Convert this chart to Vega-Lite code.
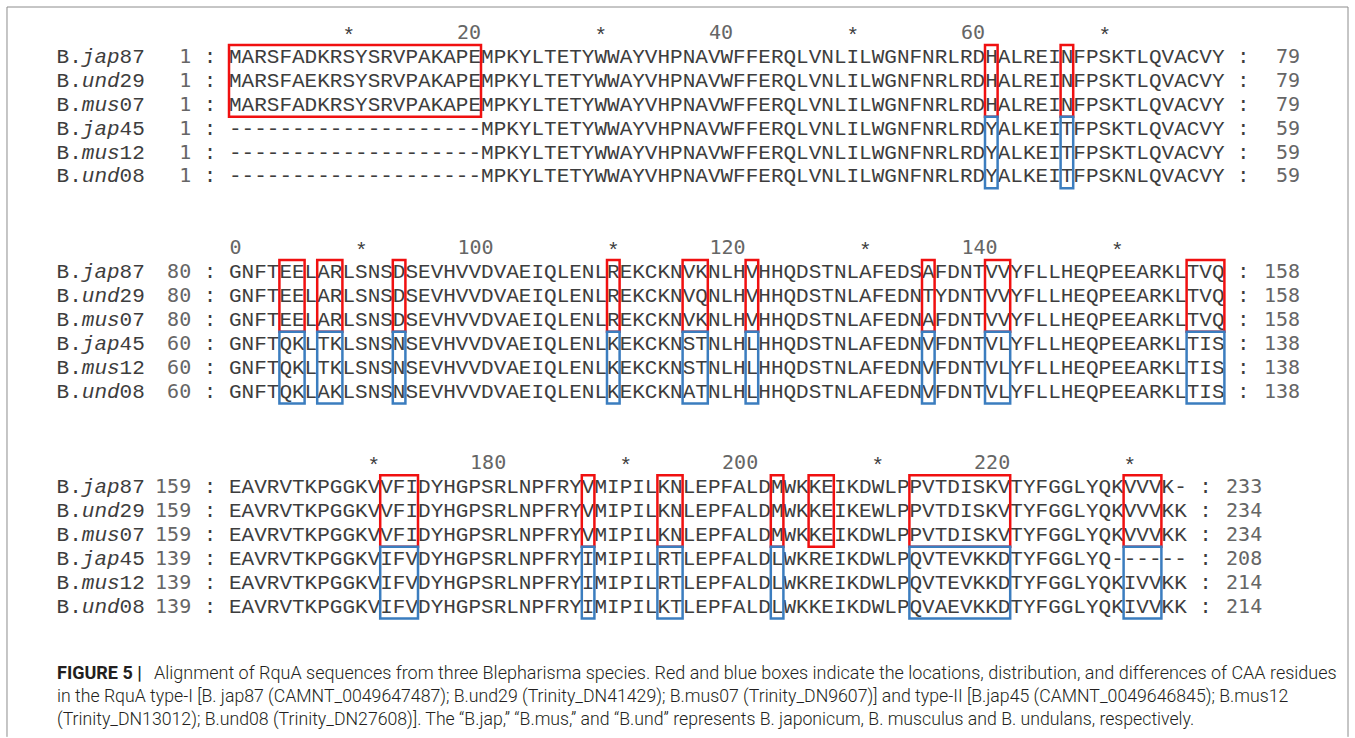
{
  "$schema": "https://vega.github.io/schema/vega-lite/v6.json",
  "width": 1355,
  "height": 738,
  "autosize": {"type": "fit", "contains": "padding"},
  "padding": 0,
  "background": "white",
  "config": {"view": {"stroke": null}, "axis": {"disable": true}, "legend": {"disable": true}},
  "resolve": {"scale": {"y": "independent"}},
  "datasets": {
    "rows": [
      {"line": 1, "sp": "jap", "num": "87", "start": 1, "end": 79, "len": 79, "seq": "MARSFADKRSYSRVPAKAPEMPKYLTETYWWAYVHPNAVWFFERQLVNLILWGNFNRLRDHALREINFPSKTLQVACVY"},
      {"line": 2, "sp": "und", "num": "29", "start": 1, "end": 79, "len": 79, "seq": "MARSFAEKRSYSRVPAKAPEMPKYLTETYWWAYVHPNAVWFFERQLVNLILWGNFNRLRDHALREINFPSKTLQVACVY"},
      {"line": 3, "sp": "mus", "num": "07", "start": 1, "end": 79, "len": 79, "seq": "MARSFADKRSYSRVPAKAPEMPKYLTETYWWAYVHPNAVWFFERQLVNLILWGNFNRLRDHALREINFPSKTLQVACVY"},
      {"line": 4, "sp": "jap", "num": "45", "start": 1, "end": 59, "len": 79, "seq": "--------------------MPKYLTETYWWAYVHPNAVWFFERQLVNLILWGNFNRLRDYALKEITFPSKTLQVACVY"},
      {"line": 5, "sp": "mus", "num": "12", "start": 1, "end": 59, "len": 79, "seq": "--------------------MPKYLTETYWWAYVHPNAVWFFERQLVNLILWGNFNRLRDYALKEITFPSKTLQVACVY"},
      {"line": 6, "sp": "und", "num": "08", "start": 1, "end": 59, "len": 79, "seq": "--------------------MPKYLTETYWWAYVHPNAVWFFERQLVNLILWGNFNRLRDYALKEITFPSKNLQVACVY"},
      {"line": 10, "sp": "jap", "num": "87", "start": 80, "end": 158, "len": 79, "seq": "GNFTEELARLSNSDSEVHVVDVAEIQLENLREKCKNVKNLHVHHQDSTNLAFEDSAFDNTVVYFLLHEQPEEARKLTVQ"},
      {"line": 11, "sp": "und", "num": "29", "start": 80, "end": 158, "len": 79, "seq": "GNFTEELARLSNSDSEVHVVDVAEIQLENLREKCKNVQNLHVHHQDSTNLAFEDNTYDNTVVYFLLHEQPEEARKLTVQ"},
      {"line": 12, "sp": "mus", "num": "07", "start": 80, "end": 158, "len": 79, "seq": "GNFTEELARLSNSDSEVHVVDVAEIQLENLREKCKNVKNLHVHHQDSTNLAFEDNAFDNTVVYFLLHEQPEEARKLTVQ"},
      {"line": 13, "sp": "jap", "num": "45", "start": 60, "end": 138, "len": 79, "seq": "GNFTQKLTKLSNSNSEVHVVDVAEIQLENLKEKCKNSTNLHLHHQDSTNLAFEDNVFDNTVLYFLLHEQPEEARKLTIS"},
      {"line": 14, "sp": "mus", "num": "12", "start": 60, "end": 138, "len": 79, "seq": "GNFTQKLTKLSNSNSEVHVVDVAEIQLENLKEKCKNSTNLHLHHQDSTNLAFEDNVFDNTVLYFLLHEQPEEARKLTIS"},
      {"line": 15, "sp": "und", "num": "08", "start": 60, "end": 138, "len": 79, "seq": "GNFTQKLAKLSNSNSEVHVVDVAEIQLENLKEKCKNATNLHLHHQDSTNLAFEDNVFDNTVLYFLLHEQPEEARKLTIS"},
      {"line": 19, "sp": "jap", "num": "87", "start": 159, "end": 233, "len": 76, "seq": "EAVRVTKPGGKVVFIDYHGPSRLNPFRYVMIPILKNLEPFALDMWKKEIKDWLPPVTDISKVTYFGGLYQKVVVK-"},
      {"line": 20, "sp": "und", "num": "29", "start": 159, "end": 234, "len": 76, "seq": "EAVRVTKPGGKVVFIDYHGPSRLNPFRYVMIPILKNLEPFALDMWKKEIKEWLPPVTDISKVTYFGGLYQKVVVKK"},
      {"line": 21, "sp": "mus", "num": "07", "start": 159, "end": 234, "len": 76, "seq": "EAVRVTKPGGKVVFIDYHGPSRLNPFRYVMIPILKNLEPFALDMWKKEIKDWLPPVTDISKVTYFGGLYQKVVVKK"},
      {"line": 22, "sp": "jap", "num": "45", "start": 139, "end": 208, "len": 76, "seq": "EAVRVTKPGGKVIFVDYHGPSRLNPFRYIMIPILRTLEPFALDLWKREIKDWLPQVTEVKKDTYFGGLYQ------"},
      {"line": 23, "sp": "mus", "num": "12", "start": 139, "end": 214, "len": 76, "seq": "EAVRVTKPGGKVIFVDYHGPSRLNPFRYIMIPILRTLEPFALDLWKREIKDWLPQVTEVKKDTYFGGLYQKIVVKK"},
      {"line": 24, "sp": "und", "num": "08", "start": 139, "end": 214, "len": 76, "seq": "EAVRVTKPGGKVIFVDYHGPSRLNPFRYIMIPILKTLEPFALDLWKKEIKDWLPQVAEVKKDTYFGGLYQKIVVKK"}
    ],
    "ruler": [
      {"line": 0, "col": 9, "label": "*", "kind": "star"},
      {"line": 0, "col": 19, "label": "20", "kind": "num"},
      {"line": 0, "col": 29, "label": "*", "kind": "star"},
      {"line": 0, "col": 39, "label": "40", "kind": "num"},
      {"line": 0, "col": 49, "label": "*", "kind": "star"},
      {"line": 0, "col": 59, "label": "60", "kind": "num"},
      {"line": 0, "col": 69, "label": "*", "kind": "star"},
      {"line": 9, "col": 0, "label": "0", "kind": "num"},
      {"line": 9, "col": 10, "label": "*", "kind": "star"},
      {"line": 9, "col": 20, "label": "100", "kind": "num"},
      {"line": 9, "col": 30, "label": "*", "kind": "star"},
      {"line": 9, "col": 40, "label": "120", "kind": "num"},
      {"line": 9, "col": 50, "label": "*", "kind": "star"},
      {"line": 9, "col": 60, "label": "140", "kind": "num"},
      {"line": 9, "col": 70, "label": "*", "kind": "star"},
      {"line": 18, "col": 11, "label": "*", "kind": "star"},
      {"line": 18, "col": 21, "label": "180", "kind": "num"},
      {"line": 18, "col": 31, "label": "*", "kind": "star"},
      {"line": 18, "col": 41, "label": "200", "kind": "num"},
      {"line": 18, "col": 51, "label": "*", "kind": "star"},
      {"line": 18, "col": 61, "label": "220", "kind": "num"},
      {"line": 18, "col": 71, "label": "*", "kind": "star"}
    ],
    "boxes": [
      {"type": "I", "c0": 0, "c1": 20, "top": 0.5, "bottom": 3.5},
      {"type": "I", "c0": 60, "c1": 61, "top": 0.5, "bottom": 3.5},
      {"type": "I", "c0": 66, "c1": 67, "top": 0.5, "bottom": 3.5},
      {"type": "II", "c0": 60, "c1": 61, "top": 3.5, "bottom": 6.5},
      {"type": "II", "c0": 66, "c1": 67, "top": 3.5, "bottom": 6.5},
      {"type": "I", "c0": 4, "c1": 6, "top": 9.5, "bottom": 12.5},
      {"type": "I", "c0": 7, "c1": 9, "top": 9.5, "bottom": 12.5},
      {"type": "I", "c0": 13, "c1": 14, "top": 9.5, "bottom": 12.5},
      {"type": "I", "c0": 30, "c1": 31, "top": 9.5, "bottom": 12.5},
      {"type": "I", "c0": 36, "c1": 38, "top": 9.5, "bottom": 12.5},
      {"type": "I", "c0": 41, "c1": 42, "top": 9.5, "bottom": 12.5},
      {"type": "I", "c0": 55, "c1": 56, "top": 9.5, "bottom": 12.5},
      {"type": "I", "c0": 60, "c1": 62, "top": 9.5, "bottom": 12.5},
      {"type": "I", "c0": 76, "c1": 79, "top": 9.5, "bottom": 12.5},
      {"type": "II", "c0": 4, "c1": 6, "top": 12.5, "bottom": 15.5},
      {"type": "II", "c0": 7, "c1": 9, "top": 12.5, "bottom": 15.5},
      {"type": "II", "c0": 13, "c1": 14, "top": 12.5, "bottom": 15.5},
      {"type": "II", "c0": 30, "c1": 31, "top": 12.5, "bottom": 15.5},
      {"type": "II", "c0": 36, "c1": 38, "top": 12.5, "bottom": 15.5},
      {"type": "II", "c0": 41, "c1": 42, "top": 12.5, "bottom": 15.5},
      {"type": "II", "c0": 55, "c1": 56, "top": 12.5, "bottom": 15.5},
      {"type": "II", "c0": 60, "c1": 62, "top": 12.5, "bottom": 15.5},
      {"type": "II", "c0": 76, "c1": 79, "top": 12.5, "bottom": 15.5},
      {"type": "I", "c0": 12, "c1": 15, "top": 18.5, "bottom": 21.5},
      {"type": "I", "c0": 28, "c1": 29, "top": 18.5, "bottom": 21.5},
      {"type": "I", "c0": 34, "c1": 36, "top": 18.5, "bottom": 21.5},
      {"type": "I", "c0": 43, "c1": 44, "top": 18.5, "bottom": 21.5},
      {"type": "I", "c0": 46, "c1": 48, "top": 18.5, "bottom": 21.5},
      {"type": "I", "c0": 54, "c1": 62, "top": 18.5, "bottom": 21.5},
      {"type": "I", "c0": 71, "c1": 74, "top": 18.5, "bottom": 21.5},
      {"type": "II", "c0": 12, "c1": 15, "top": 21.5, "bottom": 24.5},
      {"type": "II", "c0": 28, "c1": 29, "top": 21.5, "bottom": 24.5},
      {"type": "II", "c0": 34, "c1": 36, "top": 21.5, "bottom": 24.5},
      {"type": "II", "c0": 43, "c1": 44, "top": 21.5, "bottom": 24.5},
      {"type": "II", "c0": 54, "c1": 62, "top": 21.5, "bottom": 24.5},
      {"type": "II", "c0": 71, "c1": 74, "top": 21.5, "bottom": 24.5}
    ],
    "caption": [
      {"cline": 1, "part": "head", "text": "FIGURE 5 |"},
      {"cline": 1, "part": "first", "text": "Alignment of RquA sequences from three Blepharisma species. Red and blue boxes indicate the locations, distribution, and differences of CAA residues"},
      {"cline": 2, "part": "rest", "text": "in the RquA type-I [B. jap87 (CAMNT_0049647487); B.und29 (Trinity_DN41429); B.mus07 (Trinity_DN9607)] and type-II [B.jap45 (CAMNT_0049646845); B.mus12"},
      {"cline": 3, "part": "rest", "text": "(Trinity_DN13012); B.und08 (Trinity_DN27608)]. The “B.jap,” “B.mus,” and “B.und” represents B. japonicum, B. musculus and B. undulans, respectively."}
    ],
    "frame": [{"frame": "border"}]
  },
  "layer": [
    {
      "data": {"name": "frame"},
      "mark": {"type": "rule", "color": "#8c8c8c", "strokeWidth": 1},
      "encoding": {
        "x": {"datum": -17.62, "type": "quantitative", "scale": {"domain": [-18.175, 89.365], "nice": false, "zero": false}},
        "y": {"datum": -1.088, "type": "quantitative", "scale": {"domain": [-1.381, 29.498], "nice": false, "zero": false, "reverse": true}},
        "y2": {"datum": 29.45}
      }
    },
    {
      "data": {"name": "frame"},
      "mark": {"type": "rule", "color": "#8c8c8c", "strokeWidth": 1},
      "encoding": {
        "x": {"datum": -17.62, "type": "quantitative", "scale": {"domain": [-18.175, 89.365], "nice": false, "zero": false}},
        "x2": {"datum": 88.81},
        "y": {"datum": -1.088, "type": "quantitative", "scale": {"domain": [-1.381, 29.498], "nice": false, "zero": false, "reverse": true}}
      }
    },
    {
      "data": {"name": "frame"},
      "mark": {"type": "rule", "color": "#8c8c8c", "strokeWidth": 1},
      "encoding": {
        "x": {"datum": 88.81, "type": "quantitative", "scale": {"domain": [-18.175, 89.365], "nice": false, "zero": false}},
        "y": {"datum": -1.088, "type": "quantitative", "scale": {"domain": [-1.381, 29.498], "nice": false, "zero": false, "reverse": true}},
        "y2": {"datum": 29.45}
      }
    },
    {
      "data": {"name": "rows"},
      "mark": {"type": "text", "align": "left", "baseline": "middle", "font": "Liberation Mono", "fontSize": 21, "color": "#3d3d3d"},
      "encoding": {
        "x": {"datum": 0, "type": "quantitative", "scale": {"domain": [-18.175, 89.365], "nice": false, "zero": false}},
        "y": {"field": "line", "type": "quantitative", "scale": {"domain": [-1.381, 29.498], "nice": false, "zero": false, "reverse": true}},
        "text": {"field": "seq"}
      }
    },
    {
      "data": {"name": "rows"},
      "mark": {"type": "text", "align": "left", "baseline": "middle", "font": "Liberation Mono", "fontSize": 21, "color": "#3d3d3d", "text": "B.", "dx": 4},
      "encoding": {
        "x": {"datum": -14, "type": "quantitative", "scale": {"domain": [-18.175, 89.365], "nice": false, "zero": false}},
        "y": {"field": "line", "type": "quantitative", "scale": {"domain": [-1.381, 29.498], "nice": false, "zero": false, "reverse": true}}
      }
    },
    {
      "data": {"name": "rows"},
      "mark": {"type": "text", "align": "left", "baseline": "middle", "font": "Liberation Mono", "fontSize": 21, "fontStyle": "italic", "color": "#3d3d3d", "dx": 4},
      "encoding": {
        "x": {"datum": -12, "type": "quantitative", "scale": {"domain": [-18.175, 89.365], "nice": false, "zero": false}},
        "y": {"field": "line", "type": "quantitative", "scale": {"domain": [-1.381, 29.498], "nice": false, "zero": false, "reverse": true}},
        "text": {"field": "sp"}
      }
    },
    {
      "data": {"name": "rows"},
      "mark": {"type": "text", "align": "left", "baseline": "middle", "font": "Liberation Mono", "fontSize": 21, "color": "#3d3d3d", "dx": 4},
      "encoding": {
        "x": {"datum": -9, "type": "quantitative", "scale": {"domain": [-18.175, 89.365], "nice": false, "zero": false}},
        "y": {"field": "line", "type": "quantitative", "scale": {"domain": [-1.381, 29.498], "nice": false, "zero": false, "reverse": true}},
        "text": {"field": "num"}
      }
    },
    {
      "data": {"name": "rows"},
      "mark": {"type": "text", "align": "right", "baseline": "middle", "font": "DejaVu Sans Mono", "fontSize": 20, "color": "#666666"},
      "encoding": {
        "x": {"datum": -3, "type": "quantitative", "scale": {"domain": [-18.175, 89.365], "nice": false, "zero": false}},
        "y": {"field": "line", "type": "quantitative", "scale": {"domain": [-1.381, 29.498], "nice": false, "zero": false, "reverse": true}},
        "text": {"field": "start"}
      }
    },
    {
      "data": {"name": "rows"},
      "mark": {"type": "text", "align": "center", "baseline": "middle", "font": "Liberation Mono", "fontSize": 21, "color": "#3d3d3d", "text": ":"},
      "encoding": {
        "x": {"datum": -1.5, "type": "quantitative", "scale": {"domain": [-18.175, 89.365], "nice": false, "zero": false}},
        "y": {"field": "line", "type": "quantitative", "scale": {"domain": [-1.381, 29.498], "nice": false, "zero": false, "reverse": true}}
      }
    },
    {
      "data": {"name": "rows"},
      "mark": {"type": "text", "align": "center", "baseline": "middle", "font": "Liberation Mono", "fontSize": 21, "color": "#3d3d3d", "text": ":", "dx": 18.9},
      "encoding": {
        "x": {"field": "len", "type": "quantitative", "scale": {"domain": [-18.175, 89.365], "nice": false, "zero": false}},
        "y": {"field": "line", "type": "quantitative", "scale": {"domain": [-1.381, 29.498], "nice": false, "zero": false, "reverse": true}}
      }
    },
    {
      "data": {"name": "rows"},
      "mark": {"type": "text", "align": "right", "baseline": "middle", "font": "DejaVu Sans Mono", "fontSize": 20, "color": "#666666", "dx": 75.6},
      "encoding": {
        "x": {"field": "len", "type": "quantitative", "scale": {"domain": [-18.175, 89.365], "nice": false, "zero": false}},
        "y": {"field": "line", "type": "quantitative", "scale": {"domain": [-1.381, 29.498], "nice": false, "zero": false, "reverse": true}},
        "text": {"field": "end"}
      }
    },
    {
      "data": {"name": "ruler"},
      "transform": [{"filter": "datum.kind === 'star'"}],
      "mark": {"type": "text", "align": "center", "baseline": "middle", "font": "Liberation Mono", "fontSize": 21, "color": "#3d3d3d", "dx": 6.3, "dy": 3},
      "encoding": {
        "x": {"field": "col", "type": "quantitative", "scale": {"domain": [-18.175, 89.365], "nice": false, "zero": false}},
        "y": {"field": "line", "type": "quantitative", "scale": {"domain": [-1.381, 29.498], "nice": false, "zero": false, "reverse": true}},
        "text": {"field": "label"}
      }
    },
    {
      "data": {"name": "ruler"},
      "transform": [{"filter": "datum.kind === 'num'"}],
      "mark": {"type": "text", "align": "right", "baseline": "middle", "font": "DejaVu Sans Mono", "fontSize": 20, "color": "#666666", "dx": 12.6},
      "encoding": {
        "x": {"field": "col", "type": "quantitative", "scale": {"domain": [-18.175, 89.365], "nice": false, "zero": false}},
        "y": {"field": "line", "type": "quantitative", "scale": {"domain": [-1.381, 29.498], "nice": false, "zero": false, "reverse": true}},
        "text": {"field": "label"}
      }
    },
    {
      "data": {"name": "boxes"},
      "mark": {"type": "rect", "fill": "white", "fillOpacity": 0, "strokeWidth": 2.5},
      "encoding": {
        "x": {"field": "c0", "type": "quantitative", "scale": {"domain": [-18.175, 89.365], "nice": false, "zero": false}},
        "x2": {"field": "c1"},
        "y": {"field": "top", "type": "quantitative", "scale": {"domain": [-1.381, 29.498], "nice": false, "zero": false, "reverse": true}},
        "y2": {"field": "bottom"},
        "stroke": {"field": "type", "type": "nominal", "scale": {"domain": ["I", "II"], "range": ["#f01010", "#3b7dbf"]}, "legend": null}
      }
    },
    {
      "data": {"name": "caption"},
      "transform": [{"filter": "datum.part === 'head'"}],
      "mark": {"type": "text", "align": "left", "baseline": "middle", "font": "Roboto", "fontSize": 18, "fontWeight": "bold", "color": "#231f20"},
      "encoding": {
        "x": {"datum": -13.65, "type": "quantitative", "scale": {"domain": [-18.175, 89.365], "nice": false, "zero": false}},
        "y": {"field": "cline", "type": "quantitative", "scale": {"domain": [-28.30, 3.78], "nice": false, "zero": false, "reverse": true}},
        "text": {"field": "text"}
      }
    },
    {
      "data": {"name": "caption"},
      "transform": [{"filter": "datum.part === 'first'"}],
      "mark": {"type": "text", "align": "left", "baseline": "middle", "font": "Roboto", "fontSize": 18, "fontWeight": 300, "color": "#231f20", "dx": 97},
      "encoding": {
        "x": {"datum": -13.65, "type": "quantitative", "scale": {"domain": [-18.175, 89.365], "nice": false, "zero": false}},
        "y": {"field": "cline", "type": "quantitative", "scale": {"domain": [-28.30, 3.78], "nice": false, "zero": false, "reverse": true}},
        "text": {"field": "text"}
      }
    },
    {
      "data": {"name": "caption"},
      "transform": [{"filter": "datum.part === 'rest'"}],
      "mark": {"type": "text", "align": "left", "baseline": "middle", "font": "Roboto", "fontSize": 17.7, "fontWeight": 300, "color": "#231f20"},
      "encoding": {
        "x": {"datum": -13.65, "type": "quantitative", "scale": {"domain": [-18.175, 89.365], "nice": false, "zero": false}},
        "y": {"field": "cline", "type": "quantitative", "scale": {"domain": [-28.30, 3.78], "nice": false, "zero": false, "reverse": true}},
        "text": {"field": "text"}
      }
    }
  ]
}
